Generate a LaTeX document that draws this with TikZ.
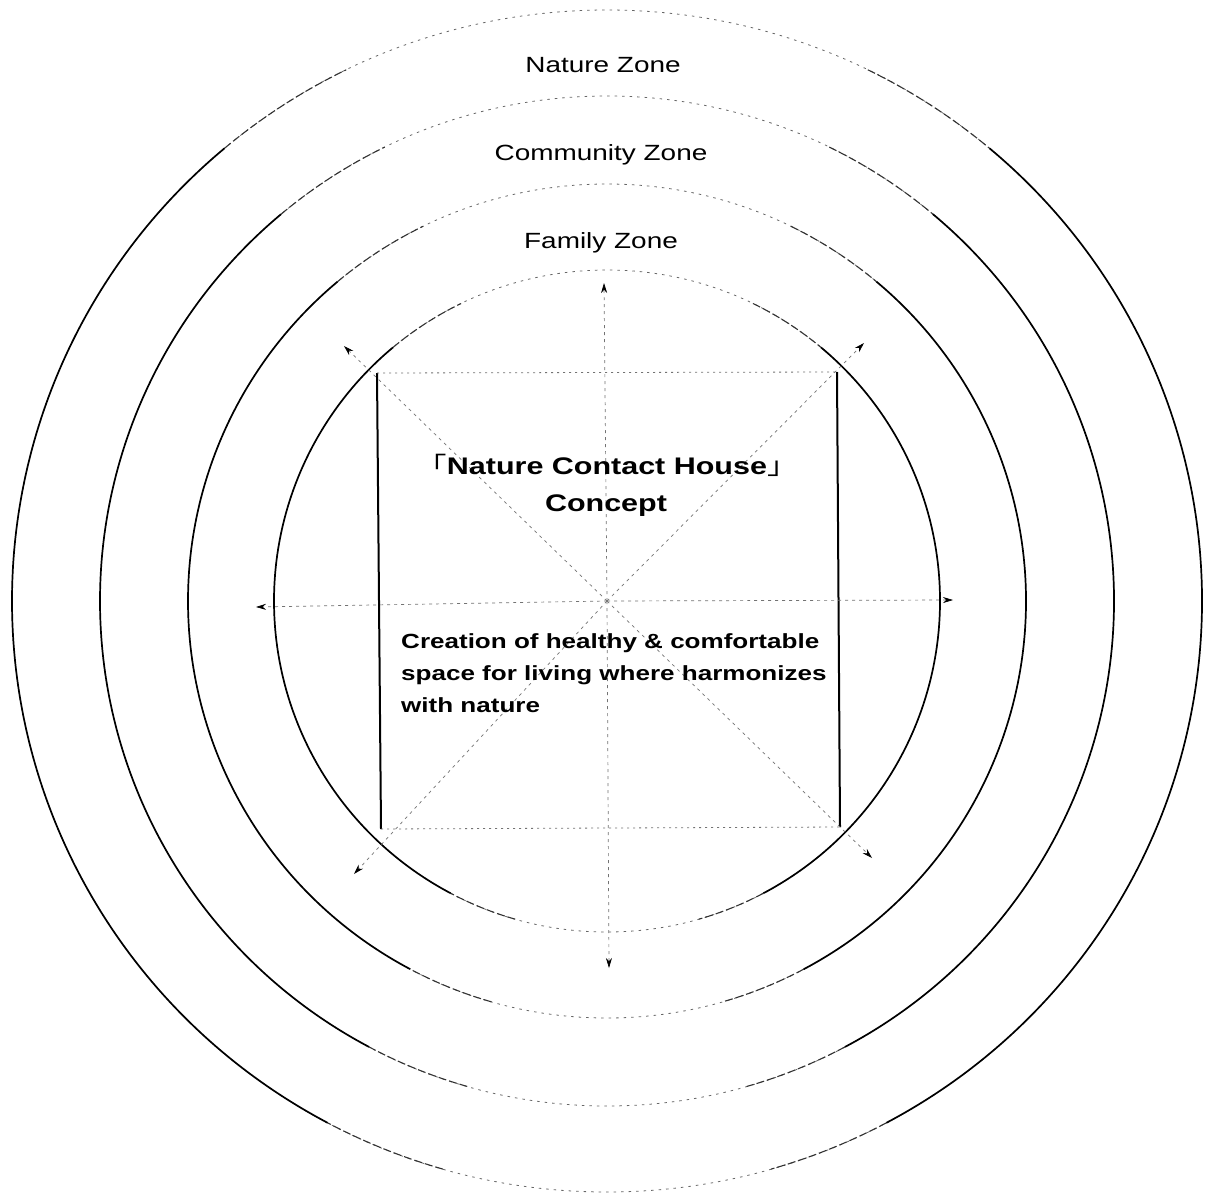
\documentclass[tikz,border=0pt]{standalone}
\usepackage{fontspec}
\setmainfont{Liberation Sans}[FakeStretch=1.27]
\newfontfamily\cjk{Noto Sans CJK JP}[FakeStretch=1.27]
\usetikzlibrary{arrows.meta}

% one zone ring: solid on the sides, broken towards top and bottom
\newcommand\zonering[2]{%
  \draw[ringfaint] (o) ellipse [x radius=#1, y radius=#2];
  \foreach \a/\b in {-64/-50, 230/244, 62/74, 106/118}
    \draw[ringmid] (o) ++(\a:#1 and #2) arc[start angle=\a, end angle=\b, x radius=#1, y radius=#2];
  \foreach \a/\b in {-50/62, 118/230}
    \draw[ringsolid] (o) ++(\a:#1 and #2) arc[start angle=\a, end angle=\b, x radius=#1, y radius=#2];
}

\begin{document}
\begin{tikzpicture}[x=1pt, y=-1pt,
  ringsolid/.style={line width=1.7pt, black},
  ringmid/.style={line width=1.1pt, black!80, dash pattern=on 8pt off 3pt},
  ringfaint/.style={line width=0.8pt, black!60, dash pattern=on 2.5pt off 5pt},
  guide/.style={line width=0.7pt, black!55, dash pattern=on 3pt off 4pt},
  ray/.style={guide, -{Stealth[length=10pt, width=6pt, black]}},
  wall/.style={line width=2pt, black},
  edge/.style={line width=0.8pt, black!55, dash pattern=on 2pt off 4pt},
  zonelabel/.style={inner sep=0pt, font=\fontsize{22}{26}\selectfont},
  headline/.style={inner sep=0pt, font=\bfseries\fontsize{24}{28}\selectfont},
  bodytext/.style={inner sep=0pt, align=left, font=\bfseries\fontsize{20.5}{32}\selectfont}]

\useasboundingbox (0,0) rectangle (1206,1196);
\fill[white] (0,0) rectangle (1206,1196);

\coordinate (o) at (607,601);

% concentric zones
\zonering{595}{591}
\zonering{507}{505}
\zonering{419}{417}
\zonering{333}{331}

% zone names
\node[zonelabel] (nature) at (603,65) {Nature Zone};
\node[zonelabel] (community) at (601,155) {Community Zone};
\node[zonelabel] (family) at (601,243) {Family Zone};

% the house frame
\coordinate (tl) at (377,373);
\coordinate (tr) at (837,372);
\coordinate (bl) at (381,829);
\coordinate (br) at (840,827);
\draw[wall] (tl) -- (bl);
\draw[wall] (tr) -- (br);
\draw[edge] (tl) -- (tr);
\draw[edge] (bl) -- (br);

% rays spreading out from the centre
\coordinate (pN) at (604,283);
\coordinate (pS) at (609,968);
\coordinate (pW) at (256,607);
\coordinate (pE) at (953,600);
\coordinate (pNW) at (344,346);
\coordinate (pNE) at (864,343);
\coordinate (pSW) at (354,874);
\coordinate (pSE) at (872,858);
\foreach \p in {pN,pS,pW,pE,pNW,pNE,pSW,pSE}
  \draw[ray] (o) -- (\p);

% concept text
\node[headline, anchor=base] (title) at (607,474)
  {{\cjk\mdseries 「}Nature Contact House{\cjk\mdseries 」}};
\node[headline, anchor=base] (concept) at (606,511) {Concept};
\node[bodytext, anchor=north west] (creation) at (401,633)
  {Creation of healthy \& comfortable\\space for living where harmonizes\\with nature};
\end{tikzpicture}
\end{document}
